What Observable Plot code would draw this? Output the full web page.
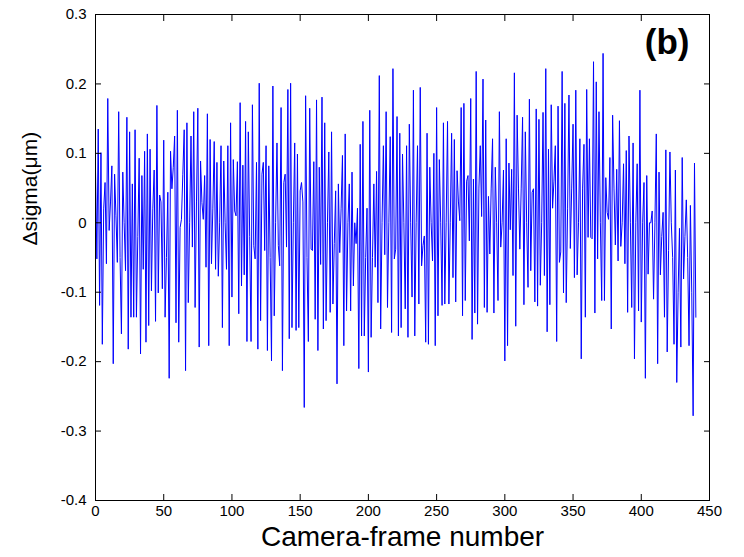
<!DOCTYPE html>
<html>
<head>
<meta charset="utf-8">
<script src="https://cdn.jsdelivr.net/npm/d3@7"></script>
<script src="https://cdn.jsdelivr.net/npm/@observablehq/plot@0.6"></script>
<style>
  html, body { margin: 0; padding: 0; background: #fff; }
  #chart svg { display: block; }
</style>
</head>
<body>
<div id="chart"></div>
<script>
// Frame-to-frame change of the fitted spot width, one value per camera frame.
const deltaSigma = [
  // frames 0–36
  0.077, -0.052, 0.135, -0.119, 0.101, -0.175, 0.02, 0.058, -0.059, 0.179, -0.011, 0.03, 0.082, -0.203, 0.07, 0.01, -0.057, 0.16, -0.05, -0.16, 0.073, 0.0, -0.069, 0.152, -0.182, 0.131, -0.136, 0.056, -0.136, 0.134, -0.136, -0.02, 0.093, -0.189, 0.068, -0.067, 0.103,
  // frames 37–73
  -0.172, 0.128, -0.148, 0.106, -0.098, 0.02, 0.076, -0.142, 0.169, -0.101, 0.04, 0.03, -0.095, 0.119, -0.136, -0.05, 0.044, -0.224, 0.103, 0.049, 0.08, 0.125, -0.144, 0.162, -0.172, -0.007, 0.005, 0.07, 0.134, -0.213, 0.144, -0.115, 0.0, 0.125, -0.035, 0.16, -0.122,
  // frames 74–110
  0.03, 0.165, -0.179, 0.089, 0.029, 0.005, 0.068, -0.064, 0.157, -0.177, 0.12, -0.059, 0.02, 0.117, -0.067, 0.087, -0.077, 0.0, 0.111, -0.151, 0.089, 0.0, -0.067, 0.111, -0.177, 0.144, -0.107, 0.091, 0.017, 0.01, 0.088, -0.131, 0.173, -0.091, 0.083, -0.075, 0.146,
  // frames 111–147
  -0.171, 0.131, -0.02, -0.171, 0.17, -0.033, -0.052, 0.087, -0.182, 0.201, -0.141, 0.07, 0.087, -0.04, 0.111, -0.184, 0.082, -0.05, -0.199, 0.197, -0.134, 0.0, 0.115, -0.033, -0.062, 0.166, -0.213, 0.058, 0.07, -0.035, 0.192, -0.167, 0.201, -0.151, 0.0, 0.115, -0.155,
  // frames 148–184
  0.099, -0.151, 0.046, 0.058, 0.03, -0.266, 0.183, -0.05, -0.171, 0.165, -0.038, -0.04, 0.088, -0.139, 0.177, -0.184, 0.08, -0.06, 0.181, -0.153, 0.144, -0.141, 0.0, 0.102, -0.129, 0.131, -0.117, -0.03, 0.046, -0.232, 0.056, -0.043, 0.02, 0.097, -0.177, 0.128, -0.127,
  // frames 185–221
  0.0, 0.056, -0.127, 0.073, -0.091, 0.0, -0.03, 0.021, -0.21, 0.113, -0.163, 0.146, -0.163, -0.05, 0.021, -0.215, 0.162, -0.165, -0.05, 0.056, -0.064, 0.074, -0.115, 0.212, -0.153, 0.0, 0.111, -0.046, 0.16, -0.122, 0.0, 0.124, -0.158, 0.222, -0.052, -0.038, 0.153,
  // frames 222–258
  -0.163, 0.129, -0.151, 0.099, 0.0, -0.124, 0.111, -0.165, 0.142, 0.0, -0.107, 0.191, -0.163, 0.0, 0.111, -0.117, 0.195, -0.062, -0.033, -0.019, -0.172, 0.129, -0.175, 0.08, 0.0, -0.055, 0.1, -0.177, 0.166, -0.134, 0.091, 0.0, -0.119, 0.144, -0.117, 0.0, 0.146,
  // frames 259–295
  -0.117, 0.0, 0.129, -0.079, 0.12, -0.114, 0.075, 0.03, 0.003, 0.166, -0.134, 0.172, -0.112, 0.06, 0.068, -0.026, 0.179, -0.168, 0.063, -0.13, 0.218, -0.146, 0.05, 0.111, 0.009, 0.207, -0.122, 0.148, -0.129, 0.038, -0.045, 0.05, 0.121, -0.13, 0.08, 0.0, -0.112,
  // frames 296–332
  0.16, -0.035, 0.0, 0.076, -0.199, 0.121, -0.177, 0.086, -0.01, 0.077, -0.076, 0.216, -0.149, 0.155, 0.05, -0.038, 0.05, 0.152, -0.118, 0.131, 0.0, -0.093, 0.178, -0.069, 0.044, 0.049, -0.114, 0.164, -0.12, 0.149, -0.09, 0.0, 0.159, -0.076, 0.222, -0.157, 0.106,
  // frames 333–369
  -0.118, 0.17, 0.021, 0.06, 0.111, -0.171, 0.168, -0.057, -0.042, 0.218, -0.101, 0.172, -0.115, 0.02, 0.184, -0.037, 0.05, 0.142, -0.079, 0.191, -0.075, 0.0, 0.121, -0.196, 0.05, 0.113, -0.136, 0.192, -0.021, 0.121, -0.021, -0.023, 0.232, -0.13, 0.203, -0.052, 0.16,
  // frames 370–406
  0.0, -0.112, 0.244, -0.112, 0.065, 0.015, 0.005, 0.094, -0.153, 0.155, 0.05, -0.032, 0.077, -0.055, 0.147, -0.034, 0.0, 0.085, -0.059, 0.104, -0.129, 0.125, 0.0, -0.122, 0.115, -0.196, 0.0, 0.085, -0.127, 0.191, -0.143, 0.0, 0.058, -0.224, 0.068, -0.074, 0.0,
  // frames 407–440
  0.0, 0.017, -0.11, 0.0, 0.128, -0.203, 0.073, -0.075, -0.02, 0.015, -0.136, 0.105, -0.186, -0.04, 0.102, 0.0, -0.05, -0.175, 0.076, -0.23, -0.1, -0.008, -0.179, 0.094, -0.081, -0.02, 0.033, -0.05, -0.177, 0.025, -0.1, -0.278, 0.086, -0.136
];

const xTicks = [0, 50, 100, 150, 200, 250, 300, 350, 400, 450];
const yTicks = [-0.4, -0.3, -0.2, -0.1, 0, 0.1, 0.2, 0.3];
const xLabel = "Camera-frame number";
const yLabel = "Δsigma(μm)";
const panelTag = "(b)";

const rows = deltaSigma.map((value, frame) => ({frame, value}));
const fmtY = d => (d === 0 ? "0" : d.toFixed(1));
const font = "'Liberation Sans', Arial, Helvetica, sans-serif";
const blank = () => "";

const chart = Plot.plot({
  width: 744,
  height: 557,
  marginLeft: 95,
  marginRight: 35,
  marginTop: 14,
  marginBottom: 57,
  style: {fontFamily: font, fontSize: "15px", color: "#000", background: "#fff", overflow: "visible"},
  x: {domain: [0, 450]},
  y: {domain: [-0.4, 0.3]},
  marks: [
    Plot.lineY(rows, {x: "frame", y: "value", stroke: "#0000ff", strokeWidth: 1}),
    Plot.frame({stroke: "#000", strokeWidth: 1}),
    // ticks point inward on all four sides, labels only on bottom and left
    Plot.axisX(xTicks, {anchor: "bottom", tickSize: 6, dy: -6, tickPadding: 5, label: null, fontSize: 15}),
    Plot.axisX(xTicks, {anchor: "top", tickSize: 6, dy: 6, tickFormat: blank, label: null}),
    Plot.axisY(yTicks, {anchor: "left", tickSize: 6, dx: 6, tickPadding: 9, tickFormat: fmtY, label: null, fontSize: 15}),
    Plot.axisY(yTicks, {anchor: "right", tickSize: 6, dx: -6, tickFormat: blank, label: null}),
    Plot.text([xLabel], {frameAnchor: "bottom", dy: 45, fontSize: 28}),
    Plot.text([yLabel], {frameAnchor: "left", dx: -65, dy: -12, rotate: -90, fontSize: 21}),
    Plot.text([panelTag], {frameAnchor: "top-right", dx: -20, dy: 15, textAnchor: "end", lineAnchor: "top", fontSize: 35, fontWeight: "bold"})
  ]
});

document.getElementById("chart").append(chart);
</script>
</body>
</html>
